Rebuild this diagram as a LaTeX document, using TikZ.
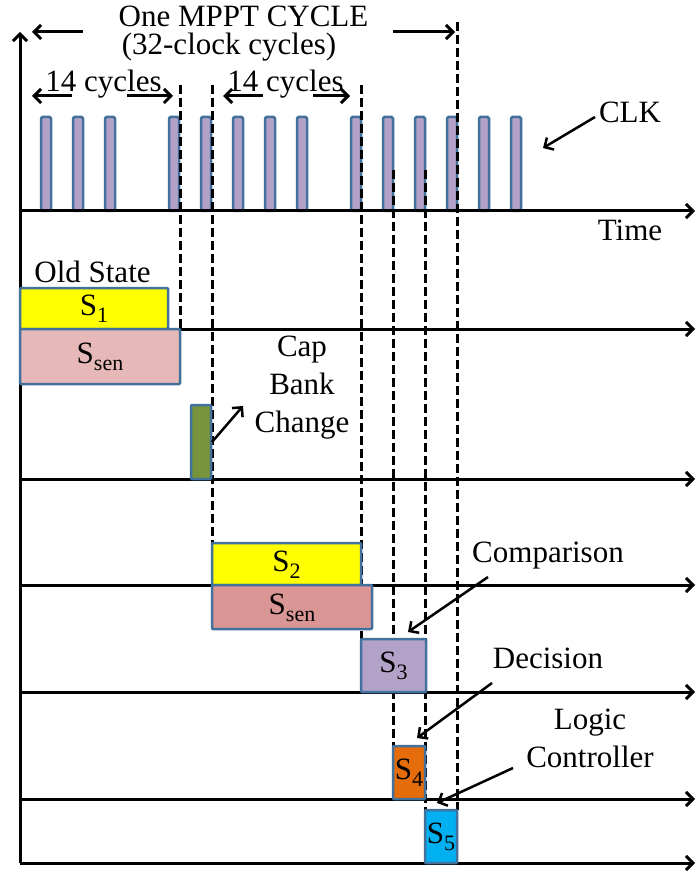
\documentclass[tikz,border=0pt]{standalone}
\usepackage{fontspec}
\setmainfont{Liberation Serif}
\usetikzlibrary{arrows.meta,backgrounds}

\definecolor{boxline}{RGB}{65,113,156}
\definecolor{clkfill}{RGB}{179,162,199}
\definecolor{stateyellow}{RGB}{255,255,0}
\definecolor{senlight}{RGB}{230,185,184}
\definecolor{sendark}{RGB}{217,150,148}
\definecolor{capgreen}{RGB}{119,147,60}
\definecolor{decfill}{RGB}{228,108,10}
\definecolor{logfill}{RGB}{0,176,240}

\newcommand{\lowsub}[1]{\raisebox{-7pt}{\fontsize{22}{22}\selectfont #1}}

\begin{document}
\begin{tikzpicture}[x=1pt,y=-1pt,>={Straight Barb[length=7pt,width=14pt]},
    every node/.style={font=\fontsize{31}{38}\selectfont,inner sep=0pt},
    axis/.style={line width=3pt,->},
    guide/.style={line width=3pt,dash pattern=on 9pt off 4pt},
    pulse/.style={draw=boxline,fill=clkfill,line width=2.5pt,rounded corners=1.5pt},
    box/.style={draw=boxline,line width=2.5pt,anchor=north west,outer sep=0pt,
                rounded corners=1pt,text height=14pt,text depth=0pt},
    pointer/.style={line width=2.5pt,->},
    span/.style={line width=3pt,->}]
	\useasboundingbox (0,0) rectangle (697,874);

	% axes
	\coordinate (origin) at (20,863);
	\coordinate (ytop)   at (20,32);
	\coordinate (xend)   at (695,0);
	\coordinate (cyctop) at (0,85);
	\coordinate (midtop) at (0,170);
	\coordinate (alltop) at (0,22);
	\draw[axis] (origin) -- (ytop);
	\foreach \y [count=\i] in {211,329,479,585,692,799,863}
		{\coordinate (t\i) at (20,\y);
		 \draw[axis] (t\i) -- (t\i -| xend);}

	% state boxes
	\node[box,fill=stateyellow,minimum width=148pt,minimum height=41pt] (s1)   at (20,288)  {S\lowsub{1}};
	\node[box,fill=senlight,   minimum width=160pt,minimum height=55pt] (sen1) at (20,329)  {S\lowsub{sen}};
	\node[box,fill=capgreen,   minimum width=20pt, minimum height=74pt] (cap)  at (191,405) {};
	\node[box,fill=stateyellow,minimum width=149pt,minimum height=42pt] (s2)   at (212,543) {S\lowsub{2}};
	\node[box,fill=sendark,    minimum width=160pt,minimum height=44pt] (sen2) at (212,585) {S\lowsub{sen}};
	\node[box,fill=clkfill,    minimum width=65pt, minimum height=53pt] (s3)   at (361,639) {S\lowsub{3}};
	\node[box,fill=decfill,    minimum width=32pt, minimum height=53pt] (s4)   at (393,746) {S\lowsub{4}};
	\node[box,fill=logfill,    minimum width=32pt, minimum height=53pt] (s5)   at (425,810) {S\lowsub{5}};

	% clock and cycle borders, behind the boxes
	\begin{scope}[on background layer]
		\foreach \c in {46,78,110,174,206,238,270,302,356,388,420,452,484,516}
			\draw[pulse] (\c-5,117) rectangle (\c+5,211);
		\draw[guide] (sen1.north east |- cyctop) -- (sen1.north east);
		\draw[guide] (s2.north west |- cyctop) -- (s2.north west);
		\draw[guide] (s3.north west |- cyctop) -- (s3.north west);
		\draw[guide] (s4.north west |- midtop) -- (s4.north west);
		\draw[guide] (s5.north west |- midtop) -- (s5.north west);
		\draw[guide] (s5.north east |- alltop) -- (s5.north east);
	\end{scope}

	% labels
	\node[anchor=base] (title)  at (243.5,27) {One MPPT CYCLE};
	\node[anchor=base] (clocks) at (229,55)   {(32-clock cycles)};
	\node[anchor=base] (cycA)   at (103.5,92) {14 cycles};
	\node[anchor=base] (cycB)   at (285.5,92) {14 cycles};
	\node[anchor=base] (clk)    at (630,123)  {CLK};
	\node[anchor=base] (time)   at (630,241)  {Time};
	\node[anchor=base] (old)    at (92.5,282) {Old State};
	\node[align=center] (capnote) at (302,388) {Cap\\Bank\\Change};
	\node[anchor=base] (cmp)    at (548,562)  {Comparison};
	\node[anchor=base] (dec)    at (548,668)  {Decision};
	\node[align=center] (logic) at (590,738)  {Logic\\Controller};

	% span arrows
	\coordinate (titleL) at (83,32);  \coordinate (titleLtip) at (32,32);
	\coordinate (titleR) at (393,32); \coordinate (titleRtip) at (455,32);
	\coordinate (cycAL) at (72,96);   \coordinate (cycALtip) at (32,96);
	\coordinate (cycAR) at (127,96);  \coordinate (cycARtip) at (173,96);
	\coordinate (cycBL) at (263,96);  \coordinate (cycBLtip) at (223,96);
	\coordinate (cycBR) at (313,96);  \coordinate (cycBRtip) at (350,96);
	\foreach \a in {titleL,titleR,cycAL,cycAR,cycBL,cycBR}
		\draw[span] (\a) -- (\a tip);

	% pointers
	\coordinate (clkfrom) at (595,117); \coordinate (clkto) at (543,148);
	\coordinate (capfrom) at (212,442); \coordinate (capto) at (243,406);
	\coordinate (cmpfrom) at (488,577); \coordinate (cmpto) at (408,632);
	\coordinate (decfrom) at (492,683); \coordinate (decto) at (417,738);
	\coordinate (logfrom) at (513,768); \coordinate (logto) at (437,803);
	\foreach \p in {clk,cap,cmp,dec,log}
		\draw[pointer] (\p from) -- (\p to);
\end{tikzpicture}
\end{document}
